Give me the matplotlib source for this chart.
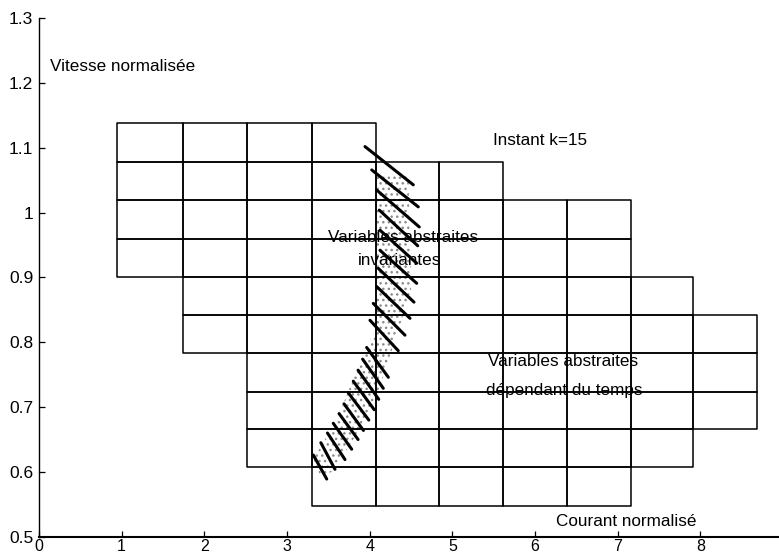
import matplotlib
matplotlib.use("Agg")
import matplotlib.pyplot as plt
from matplotlib.patches import Polygon

plt.rcParams['font.family'] = ['Liberation Sans', 'DejaVu Sans']

# ---- data ----
col_edges = [0.95, 1.74, 2.52, 3.30, 4.08, 4.84, 5.61, 6.39, 7.16, 7.91, 8.68]
row_edges = [0.548, 0.608, 0.666, 0.723, 0.784, 0.842, 0.901, 0.959, 1.020, 1.078, 1.138]
row_first_edge = [3, 2, 2, 2, 1, 1, 0, 0, 0, 0]
row_last_edge = [8, 9, 10, 10, 10, 9, 8, 8, 6, 4]

# boundary strokes (hatching)
stroke_x1 = [3.944, 4.025, 4.085, 4.117, 4.125, 4.125, 4.105, 4.085, 4.044, 4.004,
             3.964, 3.915, 3.860, 3.802, 3.742, 3.690, 3.630, 3.560, 3.490, 3.410, 3.319]
stroke_y1 = [1.102, 1.066, 1.035, 1.004, 0.973, 0.942, 0.914, 0.886, 0.860, 0.834,
             0.792, 0.774, 0.757, 0.740, 0.722, 0.705, 0.690, 0.675, 0.660, 0.645, 0.626]
stroke_x2 = [4.528, 4.588, 4.600, 4.581, 4.569, 4.569, 4.536, 4.488, 4.427, 4.346,
             4.226, 4.165, 4.110, 4.055, 3.990, 3.925, 3.860, 3.783, 3.702, 3.581, 3.481]
stroke_y2 = [1.043, 1.009, 0.978, 0.949, 0.922, 0.891, 0.862, 0.837, 0.811, 0.787,
             0.746, 0.729, 0.712, 0.696, 0.680, 0.664, 0.650, 0.635, 0.619, 0.604, 0.589]

# stippled band outline
band_x = [3.32, 3.60, 3.92, 4.07, 4.07, 4.47, 4.50, 4.30, 4.12, 3.85, 3.55, 3.40]
band_y = [0.620, 0.680, 0.780, 0.820, 1.060, 1.060, 0.880, 0.800, 0.730, 0.660, 0.600, 0.595]

xticks = [0, 1, 2, 3, 4, 5, 6, 7, 8, 9]
xtick_labels = ['0', '1', '2', '3', '4', '5', '6', '7', '8', '9']
yticks = [0.5, 0.6, 0.7, 0.8, 0.9, 1.0, 1.1, 1.2, 1.3]
ytick_labels = ['0.5', '0.6', '0.7', '0.8', '0.9', '1', '1.1', '1.2', '1.3']

annotations = [
    ("Vitesse normalisée", 0.135, 1.225, 'left'),
    ("Instant k=15", 5.49, 1.111, 'left'),
    ("Variables abstraites", 4.40, 0.961, 'center'),
    ("invariantes", 4.36, 0.927, 'center'),
    ("Variables abstraites", 6.34, 0.770, 'center'),
    ("dépendant du temps", 6.35, 0.725, 'center'),
    ("Courant normalisé", 7.10, 0.523, 'center'),
]

# ---- figure ----
fig = plt.figure(figsize=(7.79, 5.55), dpi=100)
ax = fig.add_axes([38.85 / 779, 18.3 / 555, 744.3 / 779, 518.4 / 555])
ax.set_xlim(0, 9)
ax.set_ylim(0.5, 1.3)

for i in range(len(row_first_edge)):
    cells = [(col_edges[j], col_edges[j + 1] - col_edges[j])
             for j in range(row_first_edge[i], row_last_edge[i])]
    ax.broken_barh(cells, (row_edges[i], row_edges[i + 1] - row_edges[i]),
                   facecolors='none', edgecolors='black', linewidth=1.1, zorder=2)

band = Polygon(list(zip(band_x, band_y)), closed=True, facecolor='none',
               edgecolor='#8a8a8a', linewidth=0, hatch='...', zorder=1)
ax.add_patch(band)

for x1, y1, x2, y2 in zip(stroke_x1, stroke_y1, stroke_x2, stroke_y2):
    ax.plot([x1, x2], [y1, y2], color='black', linewidth=2.2,
            solid_capstyle='round', zorder=3)

for txt, x, y, ha in annotations:
    ax.text(x, y, txt, ha=ha, va='center', fontsize=12.3, color='black', zorder=4)

ax.set_xticks(xticks)
ax.set_xticklabels(xtick_labels)
ax.set_yticks(yticks)
ax.set_yticklabels(ytick_labels)
ax.tick_params(direction='in', length=4, width=0.9, labelsize=12.5, pad=4)
ax.tick_params(axis='x', labelsize=11.5, pad=1.5)
ax.spines['top'].set_visible(False)
ax.spines['right'].set_visible(False)
ax.spines['left'].set_linewidth(1.0)
ax.spines['bottom'].set_linewidth(1.5)

fig.savefig('out.png', dpi=100)
